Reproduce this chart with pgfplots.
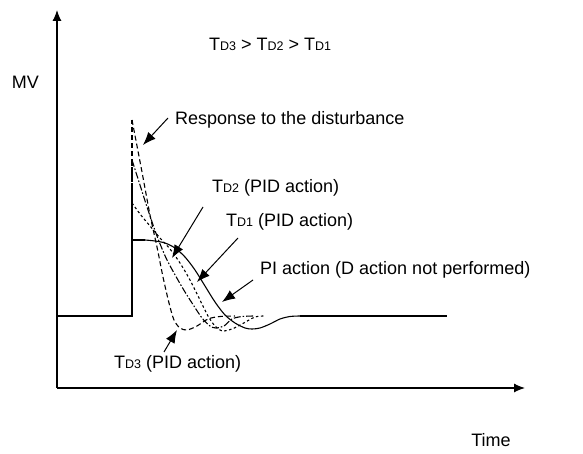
\documentclass[border=0pt]{standalone}
\usepackage{fontspec}
\setmainfont{Liberation Sans}
\usepackage{pgfplots}
\pgfplotsset{compat=1.18}
\usetikzlibrary{arrows.meta}

\newcommand{\TD}[1]{T{\fontsize{12.5}{14}\selectfont D#1}}
\tikzset{
  lbl/.style={font=\fontsize{18}{21}\selectfont, inner sep=0pt, anchor=west},
  pointer/.style={line width=1pt, -{Latex[length=13pt,width=10pt]}},
}

\begin{document}
\begin{tikzpicture}
\begin{axis}[
    scale only axis,
    width=468pt, height=378pt,
    xmin=57, xmax=525, ymin=66, ymax=444,
    axis lines=left,
    xtick=\empty, ytick=\empty,
    x axis line style={line width=1.1pt, -{Latex[length=11pt,width=9pt]}},
    y axis line style={line width=1.1pt, -{Latex[length=11pt,width=9pt]}},
    clip=false,
    every axis plot/.append style={black, line width=1.1pt},
]
% page frame (pixel grid of the reference, y flipped)
\path (axis cs:0,0) rectangle (axis cs:583,454);

% PI action (solid): baseline, step, response
\addplot[solid] coordinates {(57,138) (132,138) (132,214) (145,214)};
\addplot[solid, smooth] coordinates {
  (145,214) (155,213) (165,211) (175,206) (185,197) (195,184) (205,168)
  (215,152) (225,139) (235,131) (245,126) (252,125) (260,126) (270,130)
  (280,135) (290,137.5) (300,138)};
\addplot[solid] coordinates {(300,138) (447,138)};

% TD3 (dashed)
\addplot[dash pattern=on 5pt off 3pt] coordinates {(132,138) (132,334)};
\addplot[dash pattern=on 5pt off 3pt, smooth] coordinates {
  (132,334) (142,282) (150,239) (157,207) (163,177) (169,151) (174,134)
  (180,126) (187,124) (197,128) (208,135) (220,137.5) (235,138)};

% TD2 (dash dot)
\addplot[dash pattern=on 7pt off 2pt on 1.5pt off 2pt] coordinates {(132,138) (132,294)};
\addplot[dash pattern=on 7pt off 2pt on 1.5pt off 2pt, smooth] coordinates {
  (132,294) (140,269) (148,244) (157,218) (167,194) (182,167) (192,151)
  (202,136) (210,128) (216,126) (224,128) (232,135) (242,137.5) (255,138)};

% TD1 (short dashes)
\addplot[dash pattern=on 2.5pt off 2.5pt] coordinates {(132,138) (132,251)};
\addplot[dash pattern=on 2.5pt off 2.5pt, smooth] coordinates {
  (132,251) (140,240) (150,228) (160,216) (170,205) (180,191) (190,174)
  (200,154) (208,138) (215,128) (222,123) (232,125) (242,130) (255,137)
  (265,138)};

% labels
\node[lbl, anchor=east] at (axis cs:39,372) {MV};
\node[lbl, anchor=center] at (axis cs:491,14) {Time};
\node[lbl] at (axis cs:209,410) {\TD3 > \TD2 > \TD1};

\node[lbl] at (axis cs:175,334) {Response to the disturbance};
\draw[pointer] (axis cs:168,336) -- (axis cs:143,309);

\node[lbl] at (axis cs:212,266) {\TD2 (PID action)};
\draw[pointer] (axis cs:203,247) -- (axis cs:172,196);

\node[lbl] at (axis cs:226,232) {\TD1 (PID action)};
\draw[pointer] (axis cs:238,216) -- (axis cs:197,172);

\node[lbl] at (axis cs:260,184) {PI action (D action not performed)};
\draw[pointer] (axis cs:253,174) -- (axis cs:222,152);

\node[lbl] at (axis cs:114,90) {\TD3 (PID action)};
\draw[pointer] (axis cs:164,102) -- (axis cs:177,124);
\end{axis}
\end{tikzpicture}
\end{document}
